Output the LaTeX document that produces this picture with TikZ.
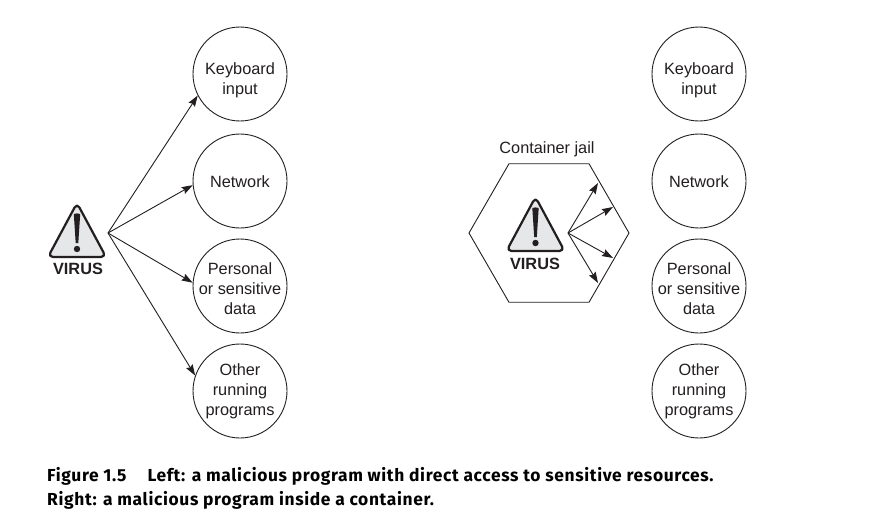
\documentclass[tikz,border=0pt]{standalone}
\usepackage{fontspec}
\setmainfont{Liberation Sans}
\newfontfamily\capfont[LetterSpace=3.7]{Fira Sans}
\usetikzlibrary{arrows.meta,shapes.geometric}
\definecolor{warn}{HTML}{E6E7E8}
\definecolor{ink}{HTML}{231F20}
\tikzset{
  res/.style={circle,draw=ink,line width=0.9pt,minimum size=94pt,inner sep=0pt},
  rt/.style={align=center,font=\fontsize{16.3}{20}\selectfont,text=ink,inner sep=0pt},
  arr/.style={draw=ink,line width=0.9pt,-{Stealth[length=11pt,width=7.5pt,inset=1.5pt]}},
  vlabel/.style={font=\fontsize{16.3}{18}\selectfont\bfseries,text=ink,inner sep=0pt},
  tri/.style={draw=ink,fill=warn,line width=2.2pt,rounded corners=5pt,line join=round},
  capt/.style={font=\capfont\fontsize{17.4}{24}\selectfont\bfseries,anchor=base west,inner sep=0pt,text=black},
}
\newcommand{\warnsign}[2]{%
  \begin{scope}[shift={(#1,#2)}]
    \draw[tri] (0,-2) -- (29,52) -- (-29,52) -- cycle;
    \fill[ink] (-3.2,9) to[bend left=20] (3.2,9) -- (1.3,38) -- (-1.3,38) -- cycle;
    \fill[ink] (0,44) circle (3.2pt);
  \end{scope}}
\begin{document}
\begin{tikzpicture}[x=1pt,y=-1pt]
\useasboundingbox (0,0) rectangle (887,530);
\fill[white] (0,0) rectangle (887,530);
% left
\node[res] (k1) at (240,74) {};
\node[res] (n1) at (240,181) {};
\node[res] (p1) at (240,286) {};
\node[res] (o1) at (240,391) {};
\node[rt] (k1t) at (240,80) {Keyboard\\input};
\node[rt] (n1t) at (240,182) {Network};
\node[rt] (p1t) at (240,289) {Personal\\or sensitive\\data};
\node[rt] (o1t) at (240,391) {Other\\running\\programs};
\warnsign{77}{205}
\node[vlabel] (v1) at (78,268.5) {VIRUS};
\coordinate (s1) at (108,233);
\draw[arr] (s1) -- (k1.207);
\draw[arr] (s1) -- (n1.185);
\draw[arr] (s1) -- (p1.176);
\draw[arr] (s1) -- (o1.161);
% right
\node[res] (k2) at (699,74) {};
\node[res] (n2) at (699,181) {};
\node[res] (p2) at (699,286) {};
\node[res] (o2) at (699,391) {};
\node[rt] (k2t) at (699,80) {Keyboard\\input};
\node[rt] (n2t) at (699,182) {Network};
\node[rt] (p2t) at (699,289) {Personal\\or sensitive\\data};
\node[rt] (o2t) at (699,391) {Other\\running\\programs};
\node[regular polygon,regular polygon sides=6,draw=ink,line width=0.9pt,minimum size=160pt,inner sep=0pt,outer sep=0pt] (hex) at (549,233) {};
\node[rt] (cj) at (547,149.5) {Container jail};
\warnsign{535.5}{199}
\node[vlabel] (v2) at (535,263.5) {VIRUS};
\coordinate (s2) at (568,233);
\coordinate (e1) at (598,183);
\coordinate (e2) at (613,207);
\coordinate (e3) at (613,258);
\coordinate (e4) at (598,283);
\draw[arr] (s2) -- (e1);
\draw[arr] (s2) -- (e2);
\draw[arr] (s2) -- (e3);
\draw[arr] (s2) -- (e4);
% caption
\node[capt] (c1) at (47,481) {Figure 1.5\hspace{21pt}Left: a malicious program with direct access to sensitive resources.};
\node[capt] (c2) at (47,505) {Right: a malicious program inside a container.};
\end{tikzpicture}
\end{document}
